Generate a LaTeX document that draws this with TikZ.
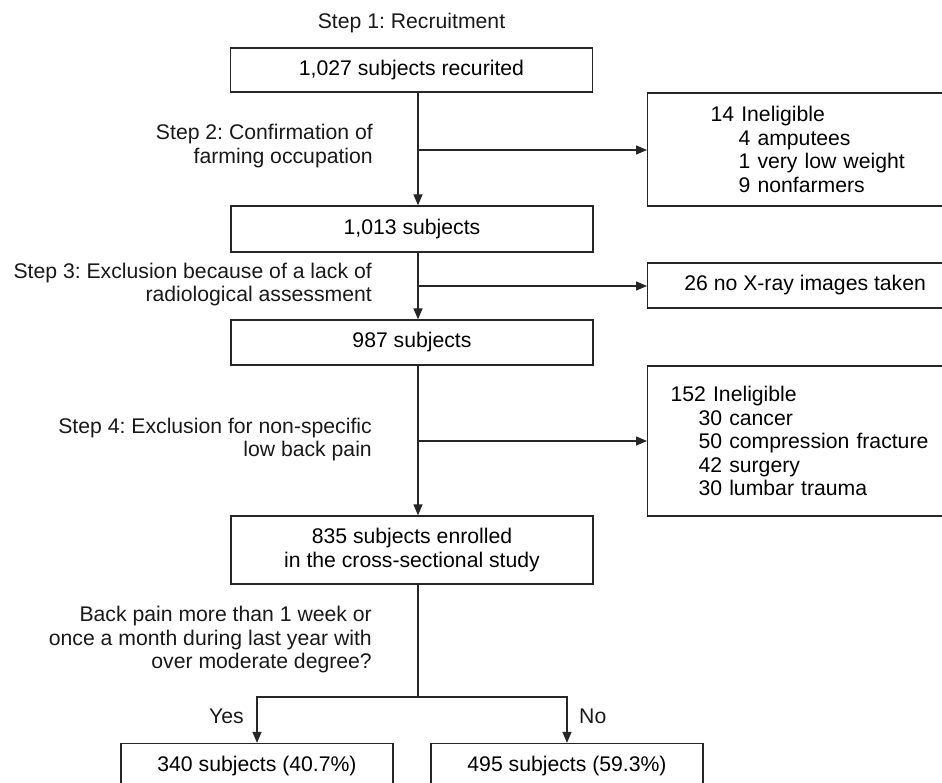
\documentclass[tikz,border=0pt]{standalone}
\usepackage{fontspec}
\setmainfont{Liberation Sans}
\usetikzlibrary{arrows.meta,calc}
\frenchspacing
\begin{document}
\begin{tikzpicture}[x=1pt,y=-1pt,
  font=\fontsize{21.2}{23.5}\selectfont,
  ln/.style={draw=black!85,line width=1.3pt},
  arr/.style={ln,-{Triangle[length=11pt,width=9pt]}},
  mainbox/.style={ln,minimum width=362pt,minimum height=45pt,inner sep=0pt,align=center},
  sidebox/.style={ln,anchor=west,minimum height=45pt,align=left},
  lbl/.style={inner sep=0pt,text=black!90},
  rlbl/.style={lbl,anchor=east,align=right}]
\useasboundingbox (0,0) rectangle (942,783);
\clip (0,0) rectangle (942,783);
% main column
\node[lbl] (s1) at (411.5,23) {Step 1: Recruitment};
\node[mainbox,minimum height=44pt] (n1) at (411.5,70) {1,027 subjects recurited};
\node[mainbox,minimum height=46pt] (n2) at (412,229) {1,013 subjects};
\node[mainbox] (n3) at (412,342.5) {987 subjects};
\node[mainbox,minimum height=68pt] (n4) at (412,550) {835 subjects enrolled\\in the cross-sectional study};
\node[mainbox,minimum width=272pt] (yes) at (257,766) {340 subjects (40.7\%)};
\node[mainbox,minimum width=272pt] (no) at (567,766) {495 subjects (59.3\%)};
% side boxes
\node[sidebox,minimum height=113pt,inner xsep=63pt,text width=197pt] (e1) at (647,149.5)
  {14 Ineligible\\\hspace*{28pt}4 amputees\\\hspace*{28pt}1 very low weight\\\hspace*{28pt}9 nonfarmers};
\node[sidebox,minimum width=315pt,align=center] (e2) at (647,285.5) {26 no X-ray images taken};
\node[sidebox,minimum height=150pt,inner xsep=23pt,text width=269pt] (e3) at (647,441)
  {152 Ineligible\\\hspace*{28pt}30 cancer\\\hspace*{28pt}50 compression fracture\\\hspace*{28pt}42 surgery\\\hspace*{28pt}30 lumbar trauma};
% step labels
\node[rlbl] (s2) at (373,146) {Step 2: Confirmation of\\farming occupation};
\node[rlbl] (s3) at (372,284.5) {Step 3: Exclusion because of a lack of\\radiological assessment};
\node[rlbl] (s4) at (372,439.5) {Step 4: Exclusion for non-specific\\low back pain};
\node[rlbl] (q) at (372,640) {Back pain more than 1 week or\\once a month during last year with\\over moderate degree?};
\node[lbl,anchor=east] (ly) at (244,716) {Yes};
\node[lbl,anchor=west] (lno) at (579,716) {No};
% connectors
\coordinate (sp) at (418,0);
\coordinate (b1) at (418,150);
\coordinate (b2) at (418,286);
\coordinate (b3) at (418,441);
\coordinate (split) at (418,697);
\draw[arr] (n1.south -| sp) -- (n2.north -| sp);
\draw[arr] (b1) -- (b1 -| e1.west);
\draw[arr] (n2.south -| sp) -- (n3.north -| sp);
\draw[arr] (b2) -- (b2 -| e2.west);
\draw[arr] (n3.south -| sp) -- (n4.north -| sp);
\draw[arr] (b3) -- (b3 -| e3.west);
\draw[ln] (n4.south -| sp) -- (split);
\draw[arr] (split) -| (yes.north);
\draw[arr] (split) -| (no.north);
\end{tikzpicture}
\end{document}
